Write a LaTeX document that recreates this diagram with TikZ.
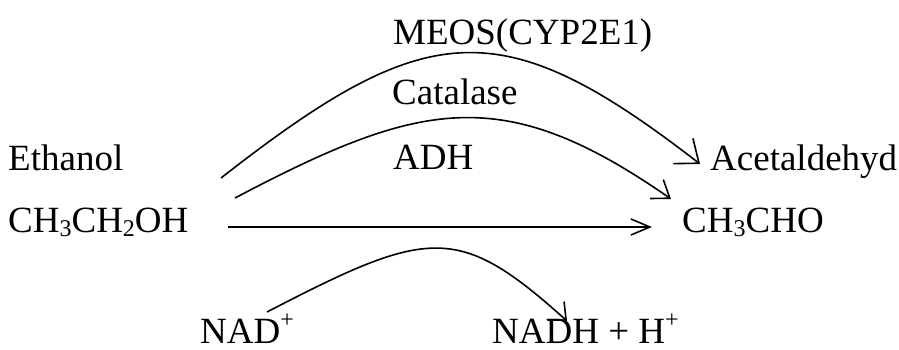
\documentclass[tikz,border=0pt]{standalone}
\usepackage{fontspec}
\setmainfont{Liberation Serif}
\usetikzlibrary{arrows.meta}
\newcommand\mysub[1]{\raisebox{-0.28ex}{\fontsize{24}{24}\selectfont #1}}
\newcommand\mysup[1]{\raisebox{0.9ex}{\fontsize{24}{24}\selectfont #1}}
\begin{document}
\begin{tikzpicture}[x=1pt,y=-1pt,
  lbl/.style={anchor=base west,inner sep=0pt,font=\fontsize{37}{44}\selectfont},
  conn/.style={line width=1.6pt}]
\useasboundingbox (0,0) rectangle (899,350);
% labels
\node[lbl] (meos) at (393,45) {MEOS(CYP2E1)};
\node[lbl] (cat) at (392,105) {Catalase};
\node[lbl] (adh) at (393,169) {ADH};
\node[lbl] (eth) at (8,170) {Ethanol};
\node[lbl] (acet) at (710,170) {Acetaldehyd};
\node[lbl] (etoh) at (8,232) {CH\mysub{3}CH\mysub{2}OH};
\node[lbl] (ald) at (682,232) {CH\mysub{3}CHO};
\node[lbl] (nad) at (200,343) {NAD\mysup{+}};
\node[lbl] (nadh) at (492,343) {NADH + H\mysup{+}};
% connector end points
\coordinate (s1) at (221,178);
\coordinate (e1) at (700,164);
\coordinate (s2) at (235,198);
\coordinate (e2) at (671,199);
\coordinate (s3) at (228,227);
\coordinate (e3) at (652,227);
\coordinate (s4) at (267,312);
\coordinate (e4) at (567,321);
% connectors
\draw[conn,-{Straight Barb[length=20pt,width=32pt]}] (s1) .. controls (427,17) and (501,10) .. (e1);
\draw[conn,-{Straight Barb[length=16pt,width=23pt]}] (s2) .. controls (421,100) and (503,82) .. (e2);
\draw[conn,-{Straight Barb[length=19pt,width=16pt]}] (s3) -- (e3);
\draw[conn,-{Straight Barb[length=14pt,width=25pt]}] (s4) .. controls (429,228) and (458,223) .. (e4);
\end{tikzpicture}
\end{document}
